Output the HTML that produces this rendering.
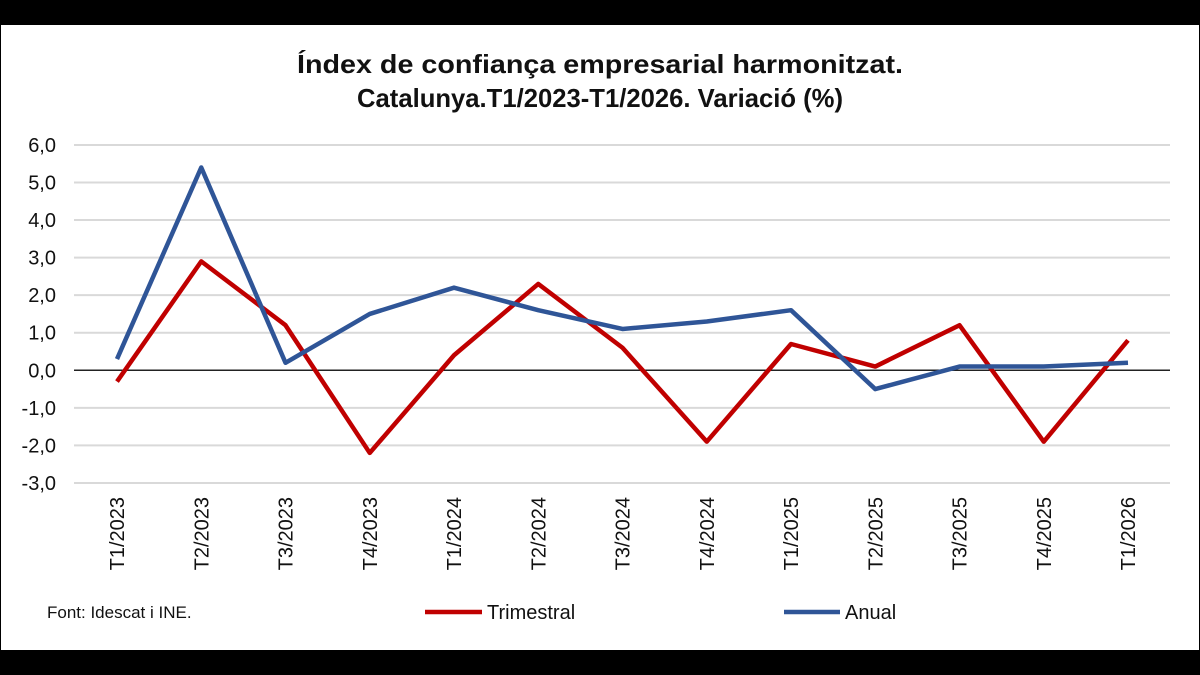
<!DOCTYPE html>
<html><head><meta charset="utf-8"><style>
body{margin:0;background:#000;}
svg{display:block;font-family:"Liberation Sans",sans-serif;}
</style></head><body>
<svg id="c" width="1200" height="675">
<rect x="1" y="25" width="1198" height="625" fill="#fff"/>
<text x="600" y="73" text-anchor="middle" font-size="26" font-weight="bold" fill="#111" textLength="606" lengthAdjust="spacingAndGlyphs">Índex de confiança empresarial harmonitzat.</text>
<text x="600" y="107" text-anchor="middle" font-size="26" font-weight="bold" fill="#111" textLength="486" lengthAdjust="spacingAndGlyphs">Catalunya.T1/2023-T1/2026. Variació (%)</text>
<g id="grid"></g><g id="axes"></g><g id="series"></g>
<text x="47" y="618" font-size="17" fill="#111">Font: Idescat i INE.</text>
<line x1="425" y1="612" x2="482" y2="612" stroke="#C00000" stroke-width="4.5"/>
<text x="487" y="619" font-size="20" fill="#111">Trimestral</text>
<line x1="784" y1="612" x2="840" y2="612" stroke="#2F5597" stroke-width="4.5"/>
<text x="845" y="619" font-size="20" fill="#111">Anual</text>
</svg>
<script>
const categories=["T1/2023","T2/2023","T3/2023","T4/2023","T1/2024","T2/2024","T3/2024","T4/2024","T1/2025","T2/2025","T3/2025","T4/2025","T1/2026"];
const trimestral=[-0.3,2.9,1.2,-2.2,0.4,2.3,0.6,-1.9,0.7,0.1,1.2,-1.9,0.8];
const anual=[0.3,5.4,0.2,1.5,2.2,1.6,1.1,1.3,1.6,-0.5,0.1,0.1,0.2];
const yTicks=[6,5,4,3,2,1,0,-1,-2,-3];
const NS="http://www.w3.org/2000/svg";
function y(v){return 370.3-v*37.56;}
function x(i){return 117+i*84.25;}
function mk(t,a,p){const e=document.createElementNS(NS,t);for(const k in a)e.setAttribute(k,a[k]);p.appendChild(e);return e;}
const grid=document.getElementById('grid'),axes=document.getElementById('axes'),ser=document.getElementById('series');
yTicks.forEach(v=>{
 const l=mk('line',{x1:74,x2:1170,y1:y(v),y2:y(v),stroke:v===0?'#222':'#d9d9d9','stroke-width':v===0?1.5:2},v===0?axes:grid);
 
 
 const t=mk('text',{x:56,y:y(v)+7,'text-anchor':'end','font-size':20,fill:'#111'},axes);
 t.textContent=v.toFixed(1).replace('.',',');
 
 
});
categories.forEach((c,i)=>{
 const t=mk('text',{transform:`translate(${x(i)+7},497) rotate(-90)`,'text-anchor':'end','font-size':20,fill:'#111'},axes);
 t.textContent=c;
 
 
});
function line(d,col,name){
 const p=mk('polyline',{points:d.map((v,i)=>x(i)+','+y(v)).join(' '),fill:'none',stroke:col,'stroke-width':4.5,'stroke-linejoin':'round'},ser);
 
 
}
line(trimestral,'#C00000','trimestral-line');
line(anual,'#2F5597','anual-line');
</script>
</body></html>
